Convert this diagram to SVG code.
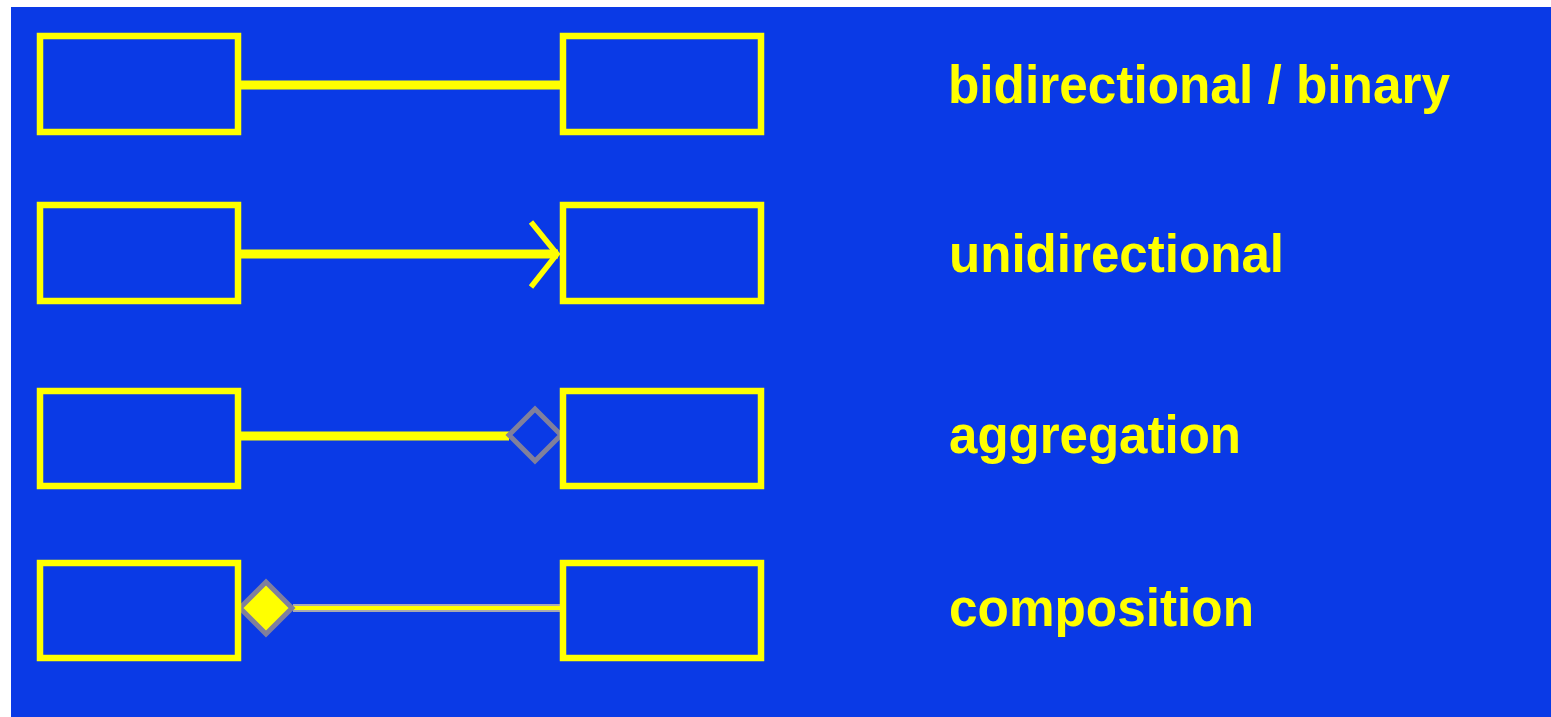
<svg xmlns="http://www.w3.org/2000/svg" width="1551" height="717" viewBox="0 0 1551 717">
  <style>
    .box { fill: none; stroke: #ffff00; stroke-width: 6.5; }
    .line { fill: none; stroke: #ffff00; stroke-width: 9; }
    .lbl { font-family: "Liberation Sans", Arial, sans-serif; font-weight: bold; font-size: 53px; fill: #ffff00; }
  </style>
  <rect x="0" y="0" width="1551" height="717" fill="#ffffff"/>
  <rect x="11" y="7" width="1540" height="710" fill="#0a3ae6"/>

  <g id="connectors">
    <line class="line" x1="241" y1="85" x2="560" y2="85"/>
    <line class="line" x1="241" y1="254" x2="558" y2="254" stroke-width="8"/>
    <polyline points="531,222 557,254 531,287" fill="none" stroke="#ffff00" stroke-width="5.5"/>
    <line class="line" x1="241" y1="436" x2="509" y2="436"/>
    <polygon points="509,435 535,409 561,435 535,461" fill="none" stroke="#80809c" stroke-width="5"/>
    <line x1="293" y1="608" x2="560" y2="608" stroke="#a9aab0" stroke-width="8"/>
    <line x1="293" y1="608" x2="560" y2="608" stroke="#ffff00" stroke-width="4"/>
    <polygon points="240,608 266,582 292,608 266,634" fill="#ffff00" stroke="#80809c" stroke-width="5"/>
  </g>

  <g id="row1-left"><rect class="box" x="40" y="36" width="198" height="96"/></g>
  <g id="row1-right"><rect class="box" x="563" y="36" width="198" height="96"/></g>
  <g id="row2-left"><rect class="box" x="40" y="205" width="198" height="96"/></g>
  <g id="row2-right"><rect class="box" x="563" y="205" width="198" height="96"/></g>
  <g id="row3-left"><rect class="box" x="40" y="391" width="198" height="95"/></g>
  <g id="row3-right"><rect class="box" x="563" y="391" width="198" height="95"/></g>
  <g id="row4-left"><rect class="box" x="40" y="563" width="198" height="95"/></g>
  <g id="row4-right"><rect class="box" x="563" y="563" width="198" height="95"/></g>

  <g id="labels">
    <text class="lbl" x="948" y="103" textLength="502" lengthAdjust="spacingAndGlyphs">bidirectional / binary</text>
    <text class="lbl" x="949" y="272" textLength="335" lengthAdjust="spacingAndGlyphs">unidirectional</text>
    <text class="lbl" x="949" y="453" textLength="292" lengthAdjust="spacingAndGlyphs">aggregation</text>
    <text class="lbl" x="949" y="626" textLength="305" lengthAdjust="spacingAndGlyphs">composition</text>
  </g>
</svg>
